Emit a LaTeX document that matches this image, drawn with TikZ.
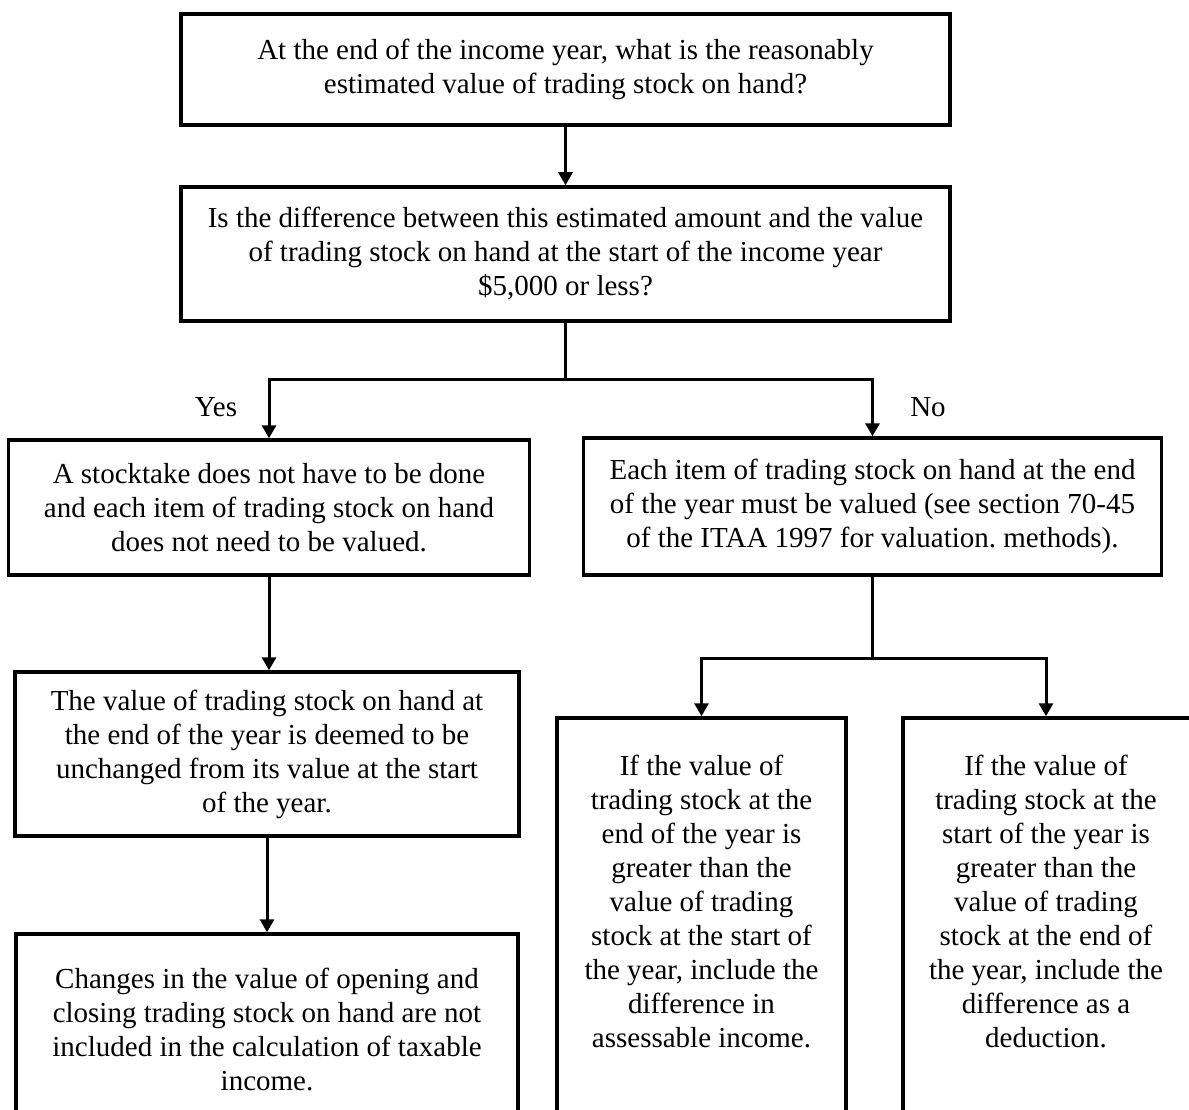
\documentclass[tikz,border=0pt]{standalone}
\usepackage{fontspec}
\setmainfont{Liberation Serif}
\usetikzlibrary{arrows.meta}
\frenchspacing
\begin{document}
\begin{tikzpicture}[x=1pt,y=-1pt,
  every node/.style={font=\fontsize{29}{34}\selectfont},
  box/.style={draw, line width=3.5pt, inner sep=0pt, align=center},
  txt/.style={inner sep=0pt, align=center},
  ln/.style={line width=3pt},
  arr/.style={line width=3pt, -{Triangle[width=14pt,length=13pt]}}]
\useasboundingbox (0,0) rectangle (1189,1110);
\clip (0,0) rectangle (1189,1110);
\fill[white] (0,0) rectangle (1189,1110);

\node[box, minimum width=769pt, minimum height=111pt] (a) at (565.5,69.5)
  {At the end of the income year, what is the reasonably\\estimated value of trading stock on hand?};
\node[box, minimum width=769pt, minimum height=134pt] (b) at (565.5,254)
  {Is the difference between this estimated amount and the value\\of trading stock on hand at the start of the income year\\\$5,000 or less?};
\node[box, minimum width=521pt, minimum height=135pt] (c) at (269,507.5)
  {A stocktake does not have to be done\\and each item of trading stock on hand\\does not need to be valued.};
\node[box, minimum width=578pt, minimum height=137pt] (f) at (872.5,506.5)
  {Each item of trading stock on hand at the end\\of the year must be valued (see section 70-45\\of the ITAA 1997 for valuation. methods).};
\node[box, minimum width=504pt, minimum height=164pt] (d) at (267,754)
  {The value of trading stock on hand at\\the end of the year is deemed to be\\unchanged from its value at the start\\of the year.};
\node[box, minimum width=502pt, minimum height=216pt] (e) at (267,1042) {};
\node[txt] (et) at (267,1029)
  {Changes in the value of opening and\\closing trading stock on hand are not\\included in the calculation of taxable\\income.};
\node[box, minimum width=289pt, minimum height=432pt] (g) at (701.5,934) {};
\node[txt] (gt) at (701.5,901)
  {If the value of\\trading stock at the\\end of the year is\\greater than the\\value of trading\\stock at the start of\\the year, include the\\difference in\\assessable income.};
\node[box, minimum width=289pt, minimum height=432pt] (h) at (1047.5,934) {};
\node[txt] (ht) at (1046,901)
  {If the value of\\trading stock at the\\start of the year is\\greater than the\\value of trading\\stock at the end of\\the year, include the\\difference as a\\deduction.};

\node[txt] (yes) at (216,407) {Yes};
\node[txt] (no) at (928,407) {No};

\coordinate (s1) at (565.5,379);
\coordinate (s2) at (872.5,658);

\draw[arr] (a.south) -- (b.north);
\draw[ln] (b.south) -- (s1);
\draw[arr] (s1) -| (c.north);
\draw[arr] (s1) -| (f.north);
\draw[arr] (c.south) -- (c.south |- d.north);
\draw[arr] (d.south) -- (e.north);
\draw[ln] (f.south) -- (s2);
\draw[arr] (s2) -| (g.north);
\draw[arr] (s2) -| ([xshift=-1.5pt]h.north);
\end{tikzpicture}
\end{document}
